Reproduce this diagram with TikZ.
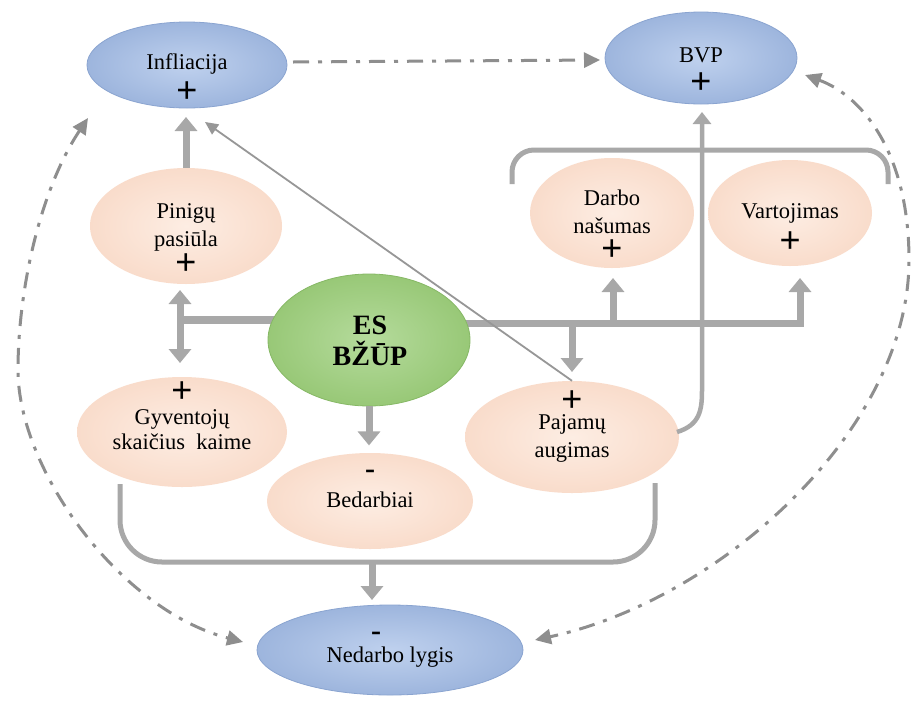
\documentclass[tikz,border=0pt]{standalone}
\usepackage{fontspec}
\setmainfont{Liberation Serif}
\newfontfamily\plusfont{Liberation Sans}
\usetikzlibrary{shapes.geometric,arrows.meta}

\definecolor{linegray}{HTML}{A8A8A8}
\definecolor{dashgray}{HTML}{8E8E8E}
\definecolor{blueIn}{HTML}{BFD1EE}
\definecolor{blueOut}{HTML}{9DB5DD}
\definecolor{blueEdge}{HTML}{8AA4D0}
\definecolor{peachIn}{HTML}{FDEDE3}
\definecolor{peachOut}{HTML}{F9DCCB}
\definecolor{greenIn}{HTML}{B5DB9C}
\definecolor{greenOut}{HTML}{98C877}
\definecolor{greenEdge}{HTML}{86B865}

\begin{document}
\begin{tikzpicture}[x=1pt,y=-1pt,
  blob/.style={ellipse, inner sep=0pt},
  blueblob/.style={blob, inner color=blueIn, outer color=blueOut, draw=blueEdge, line width=0.8pt},
  peachblob/.style={blob, inner color=peachIn, outer color=peachOut},
  greenblob/.style={blob, inner color=greenIn, outer color=greenOut, draw=greenEdge, line width=0.8pt},
  lbl/.style={font=\fontsize{22.5}{28}\selectfont, align=center, inner sep=0pt},
  boldlbl/.style={font=\fontsize{28}{31}\selectfont\bfseries, align=center, inner sep=0pt},
  pl/.style={font=\plusfont\fontsize{36}{36}\selectfont, inner sep=0pt},
  mn/.style={font=\fontsize{30}{30}\selectfont\bfseries, inner sep=0pt},
  bar/.style={draw=linegray, line width=8pt},
  thickarrow/.style={draw=linegray, line width=7pt, -{Triangle[width=22pt,length=14pt]}},
  botharrow/.style={draw=linegray, line width=7pt, {Triangle[width=22pt,length=14pt]}-{Triangle[width=22pt,length=14pt]}},
  bracket/.style={draw=linegray, line width=5pt},
  slimarrow/.style={draw=linegray, line width=4.5pt, -{Triangle[width=18pt,length=12pt]}},
  thinarrow/.style={draw=linegray!90!black, line width=1.8pt, -{Triangle[width=12pt,length=13pt]}},
  dd/.style={draw=dashgray, line width=3pt, dash pattern=on 16pt off 9pt on 4pt off 9pt},
  ddtip/.style={-{Triangle[width=15pt,length=16pt]}},
  ddboth/.style={{Triangle[width=15pt,length=16pt]}-{Triangle[width=15pt,length=16pt]}}
]
\useasboundingbox (0,0) rectangle (912,702);
\fill[white] (0,0) rectangle (912,702);

% ---- hub points of the gray connectors
\coordinate (hubL) at (180,320);
\coordinate (hubR) at (800,323);
\coordinate (hubM) at (613,323);
\coordinate (hubP) at (572,323);

% ---- thick connectors leaving ES BŽŪP (drawn beneath the ellipses)
\coordinate (esL) at (367,320);
\coordinate (esR) at (367,323);
\draw[bar] (esL) -- (hubL);
\draw[botharrow] (180,290) -- (180,363);
\draw[thickarrow] (esR) -- (hubR) -- (800,278);
\draw[thickarrow] (hubM) -- (613,278);
\draw[thickarrow] (hubP) -- (572,372);

% ---- ellipses
\node[blueblob,  minimum width=200pt, minimum height=86pt]  (inf) at (187,65) {};
\node[blueblob,  minimum width=192pt, minimum height=92pt]  (bvp) at (701,58) {};
\node[peachblob, minimum width=192pt, minimum height=116pt] (pin) at (186,226) {};
\node[peachblob, minimum width=164pt, minimum height=110pt] (dar) at (612,213) {};
\node[peachblob, minimum width=164pt, minimum height=106pt] (var) at (790,213) {};
\node[greenblob, minimum width=202pt, minimum height=132pt] (es)  at (369,340) {};
\node[peachblob, minimum width=210pt, minimum height=110pt] (gyv) at (182,432) {};
\node[peachblob, minimum width=206pt, minimum height=96pt]  (bed) at (370,501) {};
\node[peachblob, minimum width=214pt, minimum height=112pt] (paj) at (572,437) {};
\node[blueblob,  minimum width=266pt, minimum height=90pt]  (ned) at (390,650) {};

% ---- labels
\node[lbl] (tinf) at (187,64) {Infliacija};
\node[pl]  (pinf) at (187,92) {+};
\node[lbl] (tbvp) at (701,55) {BVP};
\node[pl]  (pbvp) at (701,83) {+};
\node[lbl] (tpin) at (186,227) {Pinigų\\pasiūla};
\node[pl]  (ppin) at (186,264) {+};
\node[lbl] (tdar) at (612,212) {Darbo\\našumas};
\node[pl]  (pdar) at (612,250) {+};
\node[lbl] (tvar) at (790,213) {Vartojimas};
\node[pl]  (pvar) at (790,242) {+};
\node[boldlbl] (tes) at (370,341) {ES\\BŽŪP};
\node[pl]  (pgyv) at (182,392) {+};
\node[lbl, font=\fontsize{22.5}{25}\selectfont] (tgyv) at (182,430) {Gyventojų\\skaičius~ kaime};
\node[mn]  (mbed) at (370,474) {-};
\node[lbl] (tbed) at (370,500) {Bedarbiai};
\node[pl]  (ppaj) at (572,401) {+};
\node[lbl] (tpaj) at (572,438) {Pajamų\\augimas};
\node[mn]  (mned) at (376,636) {-};
\node[lbl] (tned) at (390,657) {Nedarbo lygis};

% ---- money supply to inflation, ES to unemployed
\draw[thickarrow] (pin.north) -- (186,117);
\draw[thickarrow] (es.south) -- ++(0,39);

% ---- bracket above productivity and consumption
\draw[bracket, rounded corners=22pt] (512,184) -- (512,150) -- (888,150) -- (888,184);

% ---- income growth feeding GDP
\coordinate (bvpIn) at (702,112);
\draw[slimarrow] (677,432) .. controls (700,425) and (702,410) .. (702,390) -- (bvpIn);

% ---- bracket joining the three lower factors into unemployment rate
\draw[bracket, rounded corners=42pt] (120,484) -- (120,562) -- (655,562) -- (655,483);
\draw[thickarrow] (372,562) -- (372,600);

% ---- income growth to inflation
\draw[thinarrow] (paj.north) -- (205,122);

% ---- dash-dot feedback links
\coordinate (ddA) at (293,62);
\coordinate (ddB) at (600,60);
\draw[dd, ddtip] (ddA) -- (ddB);
\coordinate (lTop) at (88,118);
\coordinate (lBot) at (243,642);
\draw[dd, ddboth] (lTop) .. controls (40,190) and (18,290) .. (18,370)
  .. controls (18,470) and (120,610) .. (lBot);
\coordinate (rTop) at (805,75);
\coordinate (rBot) at (535,640);
\draw[dd, ddboth] (rTop) .. controls (860,95) and (909,150) .. (909,260)
  .. controls (909,430) and (720,600) .. (rBot);
\end{tikzpicture}
\end{document}
